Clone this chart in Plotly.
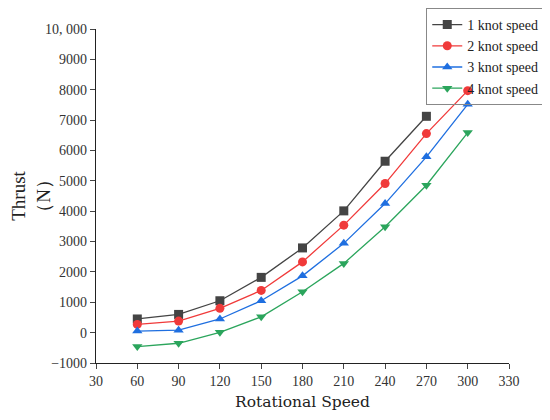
import plotly.graph_objs as go

rpm = [60, 90, 120, 150, 180, 210, 240, 270, 300]
knot1 = [450, 600, 1050, 1820, 2790, 4010, 5645, 7125]
knot2 = [270, 380, 800, 1390, 2330, 3540, 4910, 6555, 7970]
knot3 = [50, 80, 450, 1050, 1870, 2940, 4250, 5790, 7520]
knot4 = [-460, -350, 10, 520, 1345, 2280, 3485, 4855, 6590]

x_ticks = [30, 60, 90, 120, 150, 180, 210, 240, 270, 300, 330]
y_ticks = [-1000, 0, 1000, 2000, 3000, 4000, 5000, 6000, 7000, 8000, 9000, 10000]
y_labels = ['\u22121000', '0', '1000', '2000', '3000', '4000', '5000',
            '6000', '7000', '8000', '9000', '10, 000']

series = [
    ('1 knot speed', knot1, '#444444', 'square'),
    ('2 knot speed', knot2, '#f03a3a', 'circle'),
    ('3 knot speed', knot3, '#1f6fe0', 'triangle-up'),
    ('4 knot speed', knot4, '#2ba55c', 'triangle-down'),
]

serif = 'Liberation Serif'

fig = go.Figure()
for name, vals, col, sym in series:
    fig.add_trace(go.Scatter(
        x=rpm[:len(vals)], y=vals, name=name, mode='lines+markers',
        line=dict(color=col, width=1.3),
        marker=dict(symbol=sym, size=9, color=col)))

# page body adds ~8px offset, so margins are shifted to compensate
fig.update_layout(
    width=550, height=420,
    margin=dict(l=88, r=49, t=21, b=65, autoexpand=False),
    plot_bgcolor='white', paper_bgcolor='white',
    font=dict(family=serif, size=14, color='#333333'),
    showlegend=True,
    legend=dict(xref='container', yref='container', x=0.975, y=1.0,
                xanchor='right', yanchor='top',
                bordercolor='#888888', borderwidth=1,
                bgcolor='rgba(255,255,255,0)',
                font=dict(family=serif, size=14, color='#222222'),
                tracegroupgap=0, itemwidth=30),
    xaxis=dict(range=[30, 330], tickvals=x_ticks, ticks='outside', ticklen=5,
               showline=True, linecolor='#222222', linewidth=1.3,
               showgrid=False, zeroline=False, automargin=False,
               tickfont=dict(family=serif, size=14),
               title=dict(text='Rotational Speed', standoff=8,
                          font=dict(family='DejaVu Serif', size=15.5, color='#222222'))),
    yaxis=dict(range=[-1000, 10000], tickvals=y_ticks, ticktext=y_labels,
               ticks='outside', ticklen=5,
               showline=True, linecolor='#222222', linewidth=1.3,
               showgrid=False, zeroline=False, automargin=False,
               tickfont=dict(family=serif, size=14),
               title=dict(text='Thrust<br>\uff08N\uff09', standoff=6,
                          font=dict(family=serif, size=19, color='#222222'))),
)

fig.write_html("out.html")
